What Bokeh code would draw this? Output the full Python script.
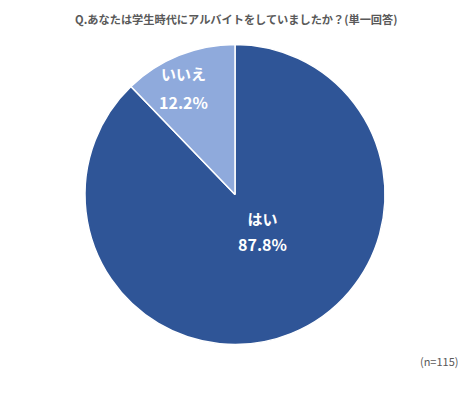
import math
from bokeh.plotting import figure
from bokeh.models import Range1d, ColumnDataSource
from bokeh.core.properties import value
from bokeh.embed import file_html
from bokeh.resources import INLINE

categories = ["はい", "いいえ"]
shares = [87.8, 12.2]
colors = ["#2F5597", "#8FAADC"]
title_text = "Q.あなたは学生時代にアルバイトをしていましたか？(単一回答)"
note_text = "(n=115)"

W, H = 458, 377
p = figure(width=W, height=H, output_backend="svg", toolbar_location=None,
           x_range=Range1d(0, W), y_range=Range1d(0, H), min_border=0)
p.axis.visible = False
p.grid.visible = False
p.outline_line_color = None
p.background_fill_color = "white"

def Y(img_y):
    return H - img_y

cx, cy, r = 234.5, Y(194), 150
total = sum(shares)
starts, ends = [], []
acc = 0.0
for s in shares:
    a0 = math.pi / 2 - 2 * math.pi * acc / total
    acc += s
    a1 = math.pi / 2 - 2 * math.pi * acc / total
    starts.append(a0)
    ends.append(a1)

src = ColumnDataSource(dict(cat=categories, share=shares, color=colors,
                            start=starts, end=ends, x=[cx]*2, y=[cy]*2))
p.wedge(x="x", y="y", radius=r, start_angle="start", end_angle="end",
        direction="clock", fill_color="color", line_color="white",
        line_width=1.5, source=src)

# label positions (layout, page px): name line, value line
label_pos = [(262, 218, 243), (183, 73, 101)]
for cat, s, (lx, y1, y2) in zip(categories, shares, label_pos):
    p.text(x=[lx], y=[Y(y1)], text=[cat], text_align="center",
           text_baseline="middle", text_color="white",
           text_font=value("Noto Sans CJK JP"), text_font_size="15px",
           text_font_style="bold")
    p.text(x=[lx], y=[Y(y2)], text=[f"{s:.1f}%"], text_align="center",
           text_baseline="middle", text_color="white",
           text_font=value("Noto Sans CJK JP"), text_font_size="16px",
           text_font_style="bold")

p.text(x=[236], y=[Y(18)], text=[title_text], text_align="center",
       text_baseline="middle", text_color="#595959",
       text_font=value("Noto Sans CJK JP"), text_font_size="11.2px",
       text_font_style="bold")
p.text(x=[458], y=[Y(360)], text=[note_text], text_align="right",
       text_baseline="middle", text_color="#595959",
       text_font=value("Noto Sans CJK JP"), text_font_size="11px")

open("out.html", "w").write(file_html(p, INLINE))
